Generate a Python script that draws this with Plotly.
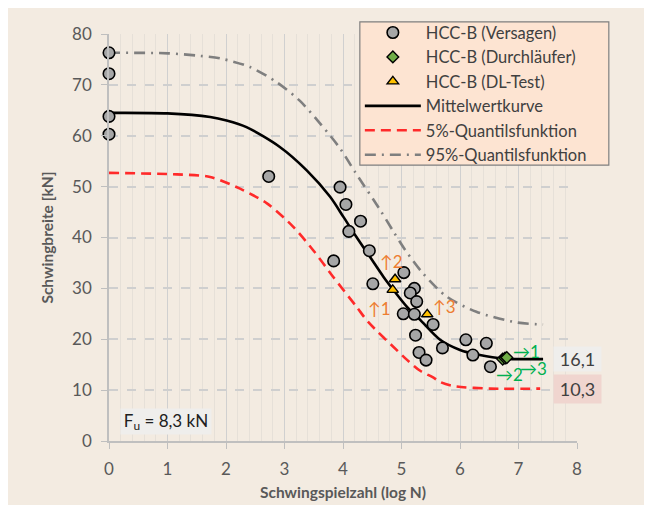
import plotly.graph_objects as go

# ---- data ----
fail_x = [0, 0, 0, 0, 2.73, 3.95, 4.05, 4.30, 4.10, 4.45, 3.84, 4.51, 5.04, 5.22, 5.15, 5.26,
          5.03, 5.22, 5.54, 5.24, 5.70, 5.30, 5.42, 6.10, 6.45, 6.22, 6.52]
fail_y = [76.3, 72.2, 63.8, 60.3, 52.0, 49.9, 46.5, 43.2, 41.2, 37.4, 35.4, 30.9, 33.1, 30.0, 29.1, 27.4,
          25.0, 24.9, 22.9, 20.8, 18.3, 17.4, 15.9, 19.9, 19.2, 16.9, 14.6]

runout_x = [6.73, 6.77, 6.80]
runout_y = [16.1, 16.3, 16.4]

dl_x = [4.89, 4.85, 5.44]
dl_y = [31.8, 29.7, 24.9]

mean_x = [0, 1.0, 1.73, 2.01, 2.35, 2.92, 3.38, 3.78, 4.01, 4.23, 4.46, 4.69, 4.86, 5.09, 5.32, 5.66, 6.0, 6.34, 6.74, 7.42]
mean_y = [64.5, 64.4, 63.7, 63.0, 61.7, 57.8, 53.2, 48.0, 44.0, 40.1, 36.2, 32.3, 29.7, 26.4, 23.8, 19.9, 17.9, 16.9, 16.2, 16.1]

p5_x = [0, 1.16, 1.73, 2.24, 2.70, 3.15, 3.49, 3.83, 4.23, 4.43, 4.97, 5.09, 5.32, 5.54, 5.66, 5.89, 6.51, 7.37]
p5_y = [52.7, 52.4, 51.9, 49.6, 46.7, 42.1, 37.5, 32.3, 26.4, 23.4, 17.3, 16.0, 13.8, 12.5, 11.6, 10.8, 10.3, 10.3]

p95_x = [0, 1.01, 1.56, 1.9, 2.41, 2.87, 3.26, 3.61, 3.95, 4.21, 4.63, 4.86, 5.06, 5.37, 5.77, 6.28, 6.97, 7.42]
p95_y = [76.3, 76.2, 75.7, 75.2, 73.5, 70.5, 66.9, 62.4, 57.5, 52.8, 45.5, 41.2, 37.6, 32.9, 28.4, 25.4, 23.3, 22.9]

mean_end_label = "16,1"
p5_end_label = "10,3"
mean_end_value = 16.1
p5_end_value = 10.3

up_labels = ["↑1", "↑2", "↑3"]
up_x = [4.63, 4.83, 5.74]
up_y = [26.1, 35.2, 26.4]

right_labels = ["→1", "→2", "→3"]
right_x = [7.14, 6.85, 7.25]
right_y = [17.6, 13.0, 14.3]

x_ticks = [0, 1, 2, 3, 4, 5, 6, 7, 8]
y_ticks = [0, 10, 20, 30, 40, 50, 60, 70, 80]

FONT = "Lato"
TXT = "#595959"
BG = "#F3EBE1"

line_traces = [
    go.Scatter(x=mean_x, y=mean_y, mode="lines", name="Mittelwertkurve", legendrank=4,
               line=dict(color="#000000", width=2.6, shape="spline", smoothing=0.8)),
    go.Scatter(x=p5_x, y=p5_y, mode="lines", name="5%-Quantilsfunktion", legendrank=5,
               line=dict(color="#FF2A2A", width=2.6, dash="10px,6px", shape="spline", smoothing=0.8)),
    go.Scatter(x=p95_x, y=p95_y, mode="lines", name="95%-Quantilsfunktion", legendrank=6,
               line=dict(color="#7F7F7F", width=2.6, dash="11px,6px,2px,6px", shape="spline", smoothing=0.8)),
]
marker_traces = [
    go.Scatter(x=fail_x, y=fail_y, mode="markers", name="HCC-B (Versagen)", legendrank=1,
               marker=dict(symbol="circle", size=11.5, color="#A6A6A6", line=dict(color="#000000", width=1.6)),
               cliponaxis=False),
    go.Scatter(x=runout_x, y=runout_y, mode="markers", name="HCC-B (Durchläufer)", legendrank=2,
               marker=dict(symbol="diamond", size=9, color="#70AD47", line=dict(color="#000000", width=1.4)),
               cliponaxis=False),
    go.Scatter(x=dl_x, y=dl_y, mode="markers", name="HCC-B (DL-Test)", legendrank=3,
               marker=dict(symbol="triangle-up", size=10, color="#FFC000", line=dict(color="#000000", width=1.4)),
               cliponaxis=False),
]
fig = go.Figure(data=line_traces + marker_traces)

annotations = []
for txt, x, y in zip(up_labels, up_x, up_y):
    annotations.append(dict(x=x, y=y, text=txt, showarrow=False, xref="x", yref="y",
                            font=dict(family=FONT, size=17, color="#ED7D31")))
for txt, x, y in zip(right_labels, right_x, right_y):
    annotations.append(dict(x=x, y=y, text=txt, showarrow=False, xref="x", yref="y",
                            font=dict(family=FONT, size=17, color="#00B050")))
annotations.append(dict(x=8, y=mean_end_value, text=mean_end_label, showarrow=False, xref="x", yref="y",
                        font=dict(family=FONT, size=18, color="#404040"), bgcolor="#EFEEEC",
                        width=45, height=22, borderpad=1))
annotations.append(dict(x=8, y=p5_end_value, text=p5_end_label, showarrow=False, xref="x", yref="y",
                        font=dict(family=FONT, size=18, color="#404040"), bgcolor="#F0D5CF",
                        width=45, height=26, borderpad=1))
annotations.append(dict(x=0.97, y=3.8, text="F<sub>u</sub> = 8,3 kN", showarrow=False, xref="x", yref="y",
                        font=dict(family=FONT, size=17, color="#202020"), bgcolor="#EFEEEC",
                        width=88, height=23, borderpad=1))

# legend frame (drawn as a shape so that the rows can sit as in the reference)
legend_box = dict(type="rect", xref="paper", yref="paper", x0=0.536, x1=1.068, y0=0.678, y1=1.030,
                  fillcolor="#FDE4D2", line=dict(color="#7F7F7F", width=1.2), layer="above")

fig.update_layout(
    width=652, height=505,
    margin=dict(l=101, r=83, t=26, b=72, autoexpand=False),
    paper_bgcolor=BG, plot_bgcolor=BG,
    font=dict(family=FONT, color=TXT),
    showlegend=True,
    legend=dict(x=0.536, y=1.046, xanchor="left", yanchor="top",
                bgcolor="rgba(0,0,0,0)", borderwidth=0,
                font=dict(family=FONT, size=16.5, color="#404040"),
                itemwidth=56, tracegroupgap=0, traceorder="normal"),
    annotations=annotations,
    shapes=[legend_box],
)

fig.update_xaxes(
    range=[0, 8], tickvals=x_ticks, ticktext=[str(v) for v in x_ticks],
    showgrid=True, gridcolor="#D0D0D0", gridwidth=1,
    minor=dict(dtick=0.2, showgrid=True, gridcolor="#E6E0D8", gridwidth=1),
    showline=True, linecolor="#BFBFBF", linewidth=1.5,
    ticks="outside", ticklen=6, tickcolor="#BFBFBF",
    tickfont=dict(family=FONT, size=17, color=TXT), ticklabelstandoff=6,
    zeroline=False,
    title=dict(text="<b>Schwingspielzahl (log N)</b>", font=dict(family=FONT, size=15.5, color=TXT), standoff=9),
)
fig.update_yaxes(
    range=[0, 80], tickvals=y_ticks, ticktext=[str(v) for v in y_ticks],
    showgrid=True, gridcolor="#CFCFCF", gridwidth=1.5, griddash="dash",
    showline=True, linecolor="#BFBFBF", linewidth=1.5,
    ticks="outside", ticklen=6, tickcolor="#BFBFBF",
    tickfont=dict(family=FONT, size=17, color=TXT), ticklabelstandoff=6,
    zeroline=False,
    title=dict(text="<b>Schwingbreite [kN]</b>", font=dict(family=FONT, size=15.5, color=TXT), standoff=15),
)

fig.write_html("out.html")
